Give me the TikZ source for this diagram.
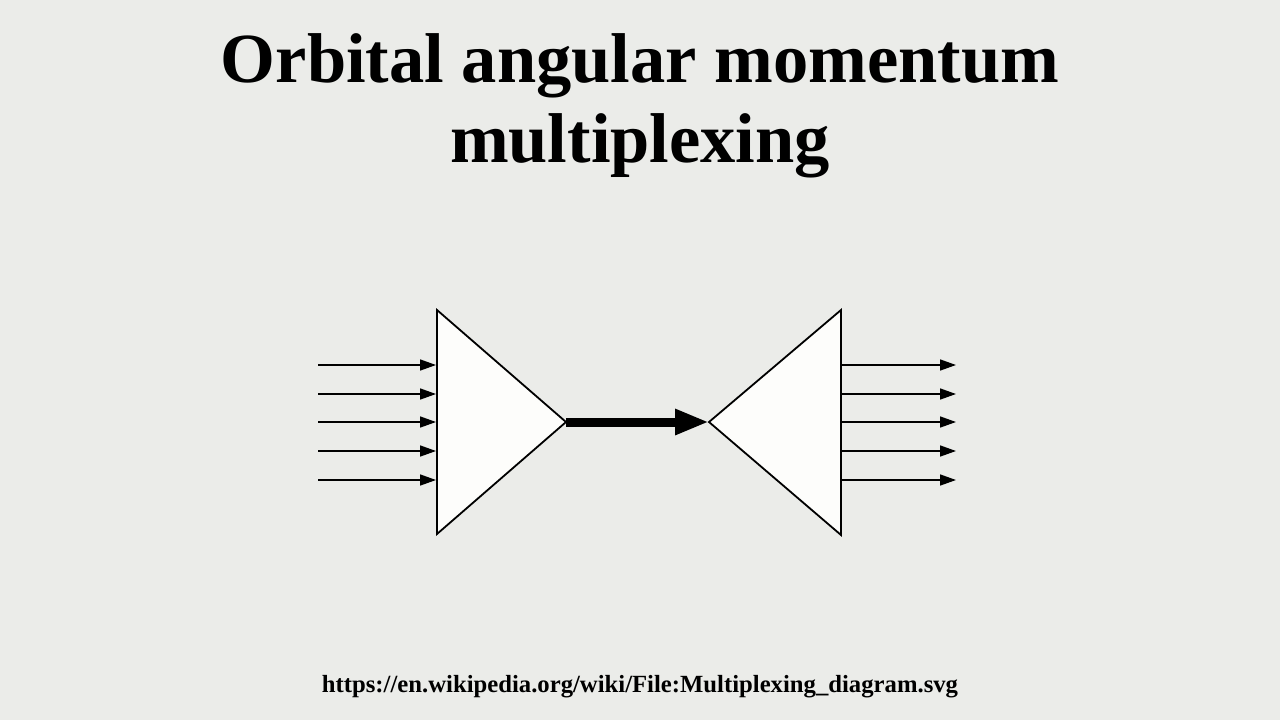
\documentclass[tikz,border=0pt]{standalone}
\usepackage{fontspec}
\setmainfont{Liberation Serif}
\usetikzlibrary{arrows.meta}
\definecolor{bggray}{RGB}{235,236,233}
\definecolor{boxwhite}{RGB}{253,253,251}
\begin{document}
\begin{tikzpicture}[x=1pt,y=-1pt]
                \fill[bggray] (0,0) rectangle (1280,720);
                \useasboundingbox (0,0) rectangle (1280,720);
                \node[font=\fontsize{70.5}{80}\selectfont\bfseries, align=center, anchor=base] (title) at (640,162) {Orbital angular momentum\\multiplexing};
                \node[font=\fontsize{24.7}{28}\selectfont\bfseries, anchor=base] (source) at (640,692) {https://en.wikipedia.org/wiki/File:Multiplexing\_diagram.svg};
                \draw (437,310) coordinate (MT);
                \draw (437,534) coordinate (MB);
                \draw (566,422) coordinate (MP);
                \draw (841,310) coordinate (DT);
                \draw (841,535) coordinate (DB);
                \draw (709,422) coordinate (DP);
                \filldraw[fill=boxwhite, line width=1.8pt, line join=miter] (MT) -- (MP) -- (MB) -- cycle;
                \filldraw[fill=boxwhite, line width=1.8pt, line join=miter] (DT) -- (DP) -- (DB) -- cycle;
                \draw[line width=9pt, -{Triangle[length=34pt,width=24pt]}] (MP) -- (DP);
                \draw (318,365) coordinate (I1);
                \draw (318,394) coordinate (I2);
                \draw (318,422) coordinate (I3);
                \draw (318,451) coordinate (I4);
                \draw (318,480) coordinate (I5);
                \draw (436,365) coordinate (HI1);
                \draw (436,394) coordinate (HI2);
                \draw (436,422) coordinate (HI3);
                \draw (436,451) coordinate (HI4);
                \draw (436,480) coordinate (HI5);
                \draw (842,365) coordinate (O1);
                \draw (842,394) coordinate (O2);
                \draw (842,422) coordinate (O3);
                \draw (842,451) coordinate (O4);
                \draw (842,480) coordinate (O5);
                \draw (956,365) coordinate (HO1);
                \draw (956,394) coordinate (HO2);
                \draw (956,422) coordinate (HO3);
                \draw (956,451) coordinate (HO4);
                \draw (956,480) coordinate (HO5);
                \draw[line width=1.6pt, -{Triangle[length=16pt,width=11pt]}] (I1) -- (HI1);
                \draw[line width=1.6pt, -{Triangle[length=16pt,width=11pt]}] (I2) -- (HI2);
                \draw[line width=1.6pt, -{Triangle[length=16pt,width=11pt]}] (I3) -- (HI3);
                \draw[line width=1.6pt, -{Triangle[length=16pt,width=11pt]}] (I4) -- (HI4);
                \draw[line width=1.6pt, -{Triangle[length=16pt,width=11pt]}] (I5) -- (HI5);
                \draw[line width=1.6pt, -{Triangle[length=16pt,width=11pt]}] (O1) -- (HO1);
                \draw[line width=1.6pt, -{Triangle[length=16pt,width=11pt]}] (O2) -- (HO2);
                \draw[line width=1.6pt, -{Triangle[length=16pt,width=11pt]}] (O3) -- (HO3);
                \draw[line width=1.6pt, -{Triangle[length=16pt,width=11pt]}] (O4) -- (HO4);
                \draw[line width=1.6pt, -{Triangle[length=16pt,width=11pt]}] (O5) -- (HO5);
            \end{tikzpicture}
\end{document}
